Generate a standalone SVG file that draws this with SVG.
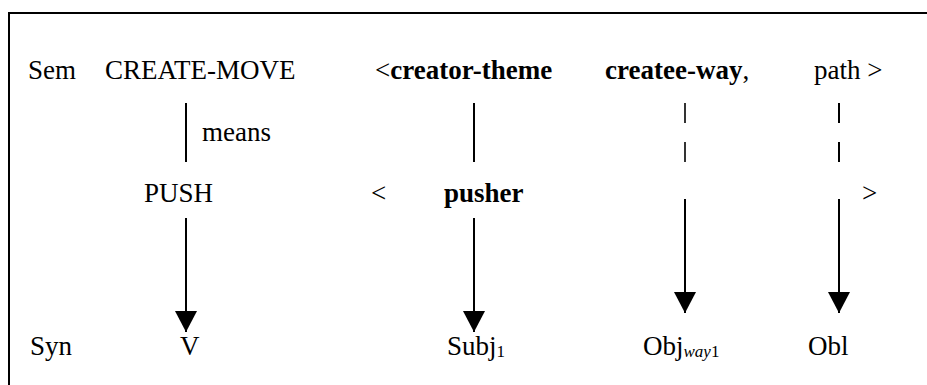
<svg xmlns="http://www.w3.org/2000/svg" width="927" height="385" viewBox="0 0 927 385">
<defs>
<marker id="ah" markerUnits="userSpaceOnUse" markerWidth="21" markerHeight="22" viewBox="0 0 21 22" refX="21" refY="11" orient="auto">
<path d="M0,0 L21,11 L0,22 Z" fill="#000"/>
</marker>
</defs>
<rect x="9" y="13" width="930" height="390" fill="#fff" stroke="#000" stroke-width="2"/>
<g id="row-sem">
<text x="28" y="79" font-family="Liberation Serif" font-size="27">Sem</text>
<text x="105" y="79" font-family="Liberation Serif" font-size="27">CREATE-MOVE</text>
<text x="375" y="79" font-family="Liberation Serif" font-size="27">&lt;<tspan font-weight="bold">creator-theme</tspan></text>
<text x="605" y="79" font-family="Liberation Serif" font-size="27"><tspan font-weight="bold">createe-way</tspan>,</text>
<text x="814" y="79" font-family="Liberation Serif" font-size="27">path &gt;</text>
</g>
<g id="label-means"><text x="202" y="141" font-family="Liberation Serif" font-size="27">means</text></g>
<g id="row-push">
<text x="144" y="202" font-family="Liberation Serif" font-size="27">PUSH</text>
<text x="371" y="202" font-family="Liberation Serif" font-size="27">&lt;</text>
<text x="444" y="202" font-family="Liberation Serif" font-size="27" font-weight="bold">pusher</text>
<text x="862" y="202" font-family="Liberation Serif" font-size="27">&gt;</text>
</g>
<g id="row-syn">
<text x="30" y="355" font-family="Liberation Serif" font-size="27">Syn</text>
<text x="180" y="355" font-family="Liberation Serif" font-size="27">V</text>
<text x="447" y="355" font-family="Liberation Serif" font-size="27">Subj<tspan font-size="17" dy="2">1</tspan></text>
<text x="643" y="355" font-family="Liberation Serif" font-size="27">Obj<tspan font-size="17" dy="2"><tspan font-style="italic">way</tspan>1</tspan></text>
<text x="808" y="355" font-family="Liberation Serif" font-size="27">Obl</text>
</g>
<g id="connectors" stroke="#000" stroke-width="2" fill="none">
<line x1="186" y1="103" x2="186" y2="162"/>
<line x1="474" y1="103" x2="474" y2="162"/>
<line x1="685" y1="103" x2="685" y2="123" stroke-width="1.6"/>
<line x1="685" y1="142" x2="685" y2="162" stroke-width="1.6"/>
<line x1="839" y1="103" x2="839" y2="123"/>
<line x1="839" y1="142" x2="839" y2="162"/>
<line x1="186" y1="218" x2="186" y2="332" marker-end="url(#ah)"/>
<line x1="474" y1="218" x2="474" y2="332" marker-end="url(#ah)"/>
<line x1="685" y1="199" x2="685" y2="313" marker-end="url(#ah)"/>
<line x1="839" y1="199" x2="839" y2="313" marker-end="url(#ah)"/>
</g>
</svg>
